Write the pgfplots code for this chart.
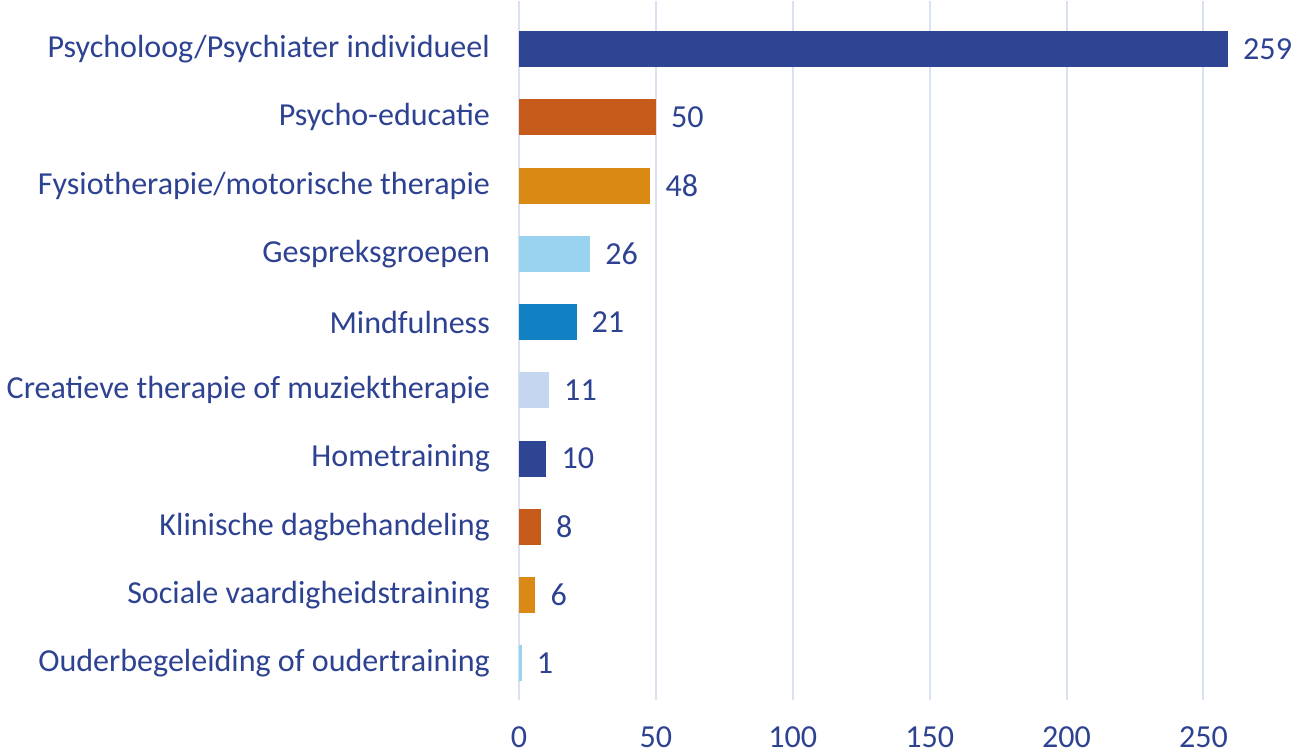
\documentclass[border=0pt]{standalone}
\usepackage{pgfplots}
\pgfplotsset{compat=1.18}
\usepackage{fontspec}
\setmainfont{Carlito}

\definecolor{txtblue}{RGB}{46,66,146}
\definecolor{cdark}{RGB}{46,69,147}
\definecolor{corange}{RGB}{197,90,27}
\definecolor{cgold}{RGB}{218,138,20}
\definecolor{clight}{RGB}{154,211,240}
\definecolor{cmid}{RGB}{18,129,195}
\definecolor{cpale}{RGB}{197,215,240}
\definecolor{gridc}{RGB}{217,225,242}

\begin{document}
\begin{tikzpicture}
  \begin{axis}[
    xbar,
    scale only axis,
    width=392pt, height=348.5pt,
    xmin=0, xmax=287,
    ymin=-0.706, ymax=9.53,
    y dir=reverse,
    bar width=18pt,
    bar shift=0pt,
    xtick={0,50,100,150,200,250},
    ytick={0,...,9},
    yticklabels={Psycholoog/Psychiater individueel, Psycho-educatie,
      Fysiotherapie/motorische therapie, Gespreksgroepen, Mindfulness,
      Creatieve therapie of muziektherapie, Hometraining,
      Klinische dagbehandeling, Sociale vaardigheidstraining,
      Ouderbegeleiding of oudertraining},
    axis line style={draw=none},
    major tick length=0pt,
    xmajorgrids,
    grid style={gridc, line width=1pt},
    tick label style={font=\fontsize{16}{19}\selectfont, text=txtblue},
    yticklabel style={xshift=-11pt},
    xticklabel style={yshift=-10pt},
    /pgf/number format/assume math mode=true,
    nodes near coords,
    nodes near coords style={font=\fontsize{16}{19}\selectfont, text=txtblue,
      anchor=west, xshift=4pt},
    every axis plot/.append style={draw=none},
  ]
  \addplot[fill=cdark] coordinates {(259,0)};
  \addplot[fill=corange] coordinates {(50,1)};
  \addplot[fill=cgold] coordinates {(48,2)};
  \addplot[fill=clight] coordinates {(26,3)};
  \addplot[fill=cmid] coordinates {(21,4)};
  \addplot[fill=cpale] coordinates {(11,5)};
  \addplot[fill=cdark] coordinates {(10,6)};
  \addplot[fill=corange] coordinates {(8,7)};
  \addplot[fill=cgold] coordinates {(6,8)};
  \addplot[fill=clight] coordinates {(1,9)};
  \end{axis}
\end{tikzpicture}
\end{document}
